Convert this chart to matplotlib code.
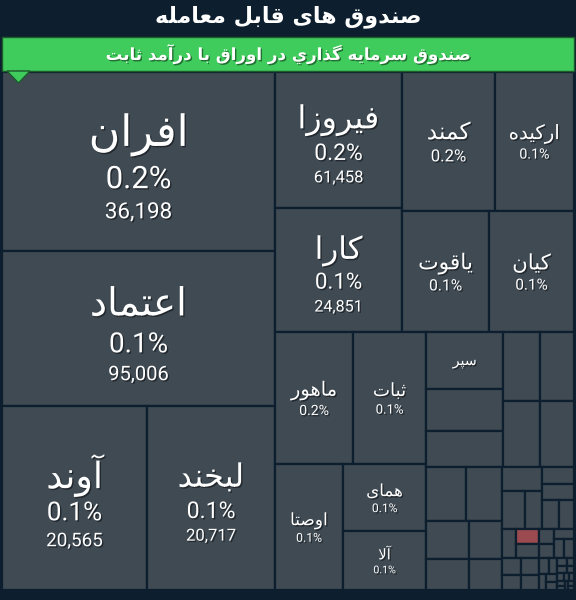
import matplotlib
matplotlib.use("Agg")
import matplotlib.pyplot as plt
import matplotlib.patheffects as pe
from matplotlib.patches import Rectangle, Polygon

# ---- data -------------------------------------------------------------
title = "صندوق های قابل معامله"
subtitle = "صندوق سرمایه گذاري در اوراق با درآمد ثابت"

names = ["افران", "اعتماد", "آوند", "لبخند", "فیروزا", "کارا", "کمند", "ارکیده",
         "یاقوت", "کیان", "ماهور", "ثبات", "اوصتا", "همای", "آلا", "سپر"]
pcts = ["0.2%", "0.1%", "0.1%", "0.1%", "0.2%", "0.1%", "0.2%", "0.1%",
        "0.1%", "0.1%", "0.2%", "0.1%", "0.1%", "0.1%", "0.1%"]
amounts = ["36,198", "95,006", "20,565", "20,717", "61,458", "24,851"]

# relative fund size (box area), in treemap order
sizes = [48867, 42315, 26680, 23552, 17272, 15748, 12927, 10981, 10527, 10285,
         10296, 9636, 8568, 5561, 4897, 4400, 3250, 2772, 2520, 2330, 2420, 2230,
         2160, 1998, 1591, 1333, 1258, 1054,
         940, 850, 640, 560, 520, 480, 440, 400, 342, 324, 304, 288, 285, 270,
         240, 220, 200, 190, 180, 160, 140, 120, 100, 90, 80, 70, 60, 50, 50,
         40, 40, 35, 30, 30, 25, 25]
down_idx = 36  # the one fund in red

BG = "#0d1f2e"
BOX = "#3f4a53"
GREEN = "#3fcc5c"
RED = "#9b4a50"

# ---- simple arabic shaping (matplotlib has no shaping engine) --------
FORMS = {
    "ا": ("\uFE8D", "\uFE8E", None, None), "آ": ("\uFE81", "\uFE82", None, None),
    "ب": ("\uFE8F", "\uFE90", "\uFE91", "\uFE92"), "ت": ("\uFE95", "\uFE96", "\uFE97", "\uFE98"),
    "ث": ("\uFE99", "\uFE9A", "\uFE9B", "\uFE9C"), "خ": ("\uFEA5", "\uFEA6", "\uFEA7", "\uFEA8"),
    "د": ("\uFEA9", "\uFEAA", None, None), "ذ": ("\uFEAB", "\uFEAC", None, None),
    "ر": ("\uFEAD", "\uFEAE", None, None), "ز": ("\uFEAF", "\uFEB0", None, None),
    "س": ("\uFEB1", "\uFEB2", "\uFEB3", "\uFEB4"), "ص": ("\uFEB9", "\uFEBA", "\uFEBB", "\uFEBC"),
    "ع": ("\uFEC9", "\uFECA", "\uFECB", "\uFECC"), "ف": ("\uFED1", "\uFED2", "\uFED3", "\uFED4"),
    "ق": ("\uFED5", "\uFED6", "\uFED7", "\uFED8"), "ل": ("\uFEDD", "\uFEDE", "\uFEDF", "\uFEE0"),
    "م": ("\uFEE1", "\uFEE2", "\uFEE3", "\uFEE4"), "ن": ("\uFEE5", "\uFEE6", "\uFEE7", "\uFEE8"),
    "ه": ("\uFEE9", "\uFEEA", "\uFEEB", "\uFEEC"), "و": ("\uFEED", "\uFEEE", None, None),
    "ي": ("\uFEF1", "\uFEF2", "\uFEF3", "\uFEF4"), "پ": ("\uFB56", "\uFB57", "\uFB58", "\uFB59"),
    "ک": ("\uFB8E", "\uFB8F", "\uFB90", "\uFB91"), "گ": ("\uFB92", "\uFB93", "\uFB94", "\uFB95"),
    "ی": ("\uFBFC", "\uFBFD", "\uFBFE", "\uFBFF"),
}
LAM_ALEF = {"ا": ("\uFEFB", "\uFEFC"), "آ": ("\uFEF5", "\uFEF6")}


def shape(s):
    out = []
    prev_dual = False
    i = 0
    while i < len(s):
        c = s[i]
        nxt = s[i + 1] if i + 1 < len(s) else ""
        if c == "ل" and nxt in LAM_ALEF:
            iso, fin = LAM_ALEF[nxt]
            out.append(fin if prev_dual else iso)
            prev_dual = False
            i += 2
            continue
        if c in FORMS:
            iso, fin, ini, med = FORMS[c]
            join_next = ini is not None and nxt in FORMS
            if prev_dual and join_next:
                out.append(med)
            elif prev_dual:
                out.append(fin)
            elif join_next:
                out.append(ini)
            else:
                out.append(iso)
            prev_dual = ini is not None
        else:
            out.append(c)
            prev_dual = False
        i += 1
    return "".join(reversed(out))


# ---- binary treemap layout (same idea as d3.treemapBinary) ------------
def binary_layout(values, x0, y0, x1, y1):
    sums = [0]
    for v in values:
        sums.append(sums[-1] + v)
    rects = [None] * len(values)

    def part(i, j, value, x0, y0, x1, y1):
        if i >= j - 1:
            rects[i] = (x0, y0, x1, y1)
            return
        off = sums[i]
        target = value / 2 + off
        k, hi = i + 1, j - 1
        while k < hi:
            mid = (k + hi) // 2
            if sums[mid] < target:
                k = mid + 1
            else:
                hi = mid
        if (target - sums[k - 1]) < (sums[k] - target) and i + 1 < k:
            k -= 1
        vl = sums[k] - off
        vr = value - vl
        if (x1 - x0) > (y1 - y0):
            xk = (x0 * vr + x1 * vl) / value
            part(i, k, vl, x0, y0, xk, y1)
            part(k, j, vr, xk, y0, x1, y1)
        else:
            yk = (y0 * vr + y1 * vl) / value
            part(i, k, vl, x0, y0, x1, yk)
            part(k, j, vr, x0, yk, x1, y1)

    part(0, len(values), sums[-1], x0, y0, x1, y1)
    return rects


fig = plt.figure(figsize=(5.76, 6.0), dpi=100)
fig.patch.set_facecolor(BG)
ax = fig.add_axes([0, 0, 1, 1])
ax.set_xlim(0, 576)
ax.set_ylim(600, 0)
ax.axis("off")

rects = binary_layout(sizes, 2, 72, 574, 590)
for i, (x0, y0, x1, y1) in enumerate(rects):
    ax.add_patch(Rectangle((x0, y0), x1 - x0, y1 - y0,
                           facecolor=RED if i == down_idx else BOX,
                           edgecolor=BG, linewidth=1.6))

shadow = [pe.withSimplePatchShadow(offset=(1, -1), shadow_rgbFace="black", alpha=0.45)]
PX = 100 / 72.0

for i, name in enumerate(names):
    x0, y0, x1, y1 = rects[i]
    w, h = x1 - x0, y1 - y0
    fs = min(31, 0.18 * min(w, h))
    lines = [(shape(name), fs, "DejaVu Sans", 1.22)]
    if i < len(pcts):
        lines.append((pcts[i], fs * 0.72, "Roboto", 1.2))
    if i < len(amounts):
        lines.append((amounts[i], fs * 0.52, "Roboto", 1.3))
    heights = [s * PX * g for _, s, _, g in lines]
    shift = 0.15 * fs * PX if i < len(amounts) else 0.05 * fs * PX
    y = (y0 + y1) / 2 - sum(heights) / 2 + shift
    cx = (x0 + x1) / 2
    for (txt, s, fam, g), hh in zip(lines, heights):
        ax.text(cx, y + hh / 2, txt, fontsize=s, family=fam, color="white",
                ha="center", va="center", path_effects=shadow)
        y += hh

# header
ax.text(288, 17, shape(title), fontsize=16, fontweight="bold", color="white",
        family="DejaVu Sans", ha="center", va="center")
ax.add_patch(Rectangle((2, 37), 572, 34, facecolor=GREEN, edgecolor="#1d5a2c", linewidth=1))
ax.text(288, 54, shape(subtitle), fontsize=12, fontweight="bold", color="white",
        family="DejaVu Sans", ha="center", va="center", path_effects=shadow)
ax.add_patch(Polygon([(7, 71), (30, 71), (18.5, 83)], closed=True,
                     facecolor=GREEN, edgecolor="#1d5a2c", linewidth=1))

fig.savefig("out.png", dpi=100, facecolor=BG)
